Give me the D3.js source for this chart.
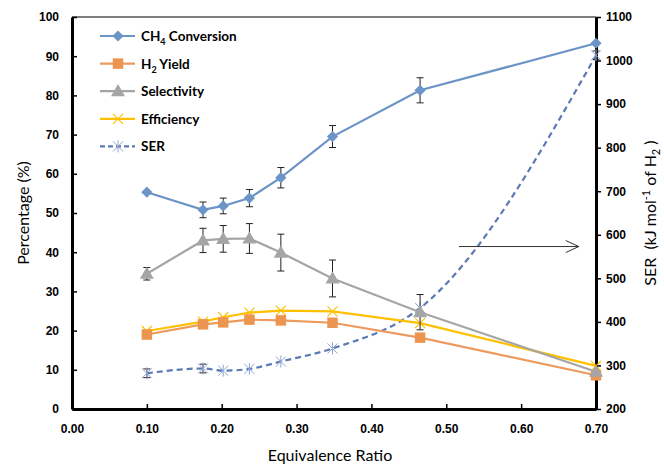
<!DOCTYPE html>
<html>
<head>
<meta charset="utf-8">
<script src="https://cdn.jsdelivr.net/npm/d3@7"></script>
<style>
    body { margin: 0; background: #fff; }
    svg { display: block; font-family: Lato, "Open Sans", sans-serif; }
</style>
</head>
<body>
<svg id="chart" width="664" height="465"></svg>
<script>
// equivalence ratio for every measurement
const ratios = [0.10, 0.175, 0.202, 0.237, 0.279, 0.348, 0.465, 0.70];

// left axis series (%)
const ch4Conversion = [55.3, 50.8, 51.8, 53.8, 59.0, 69.5, 81.3, 93.3];
const ch4Error = [0, 2.0, 2.0, 2.2, 2.6, 2.8, 3.2, 0];
const h2Yield = [19.0, 21.6, 22.1, 22.8, 22.6, 22.0, 18.2, 8.6];
const selectivity = [34.5, 43.0, 43.4, 43.5, 39.9, 33.3, 24.7, 9.5];
const selectivityError = [1.6, 3.1, 3.4, 3.8, 4.7, 4.7, 4.5, 0];
const efficiency = [19.9, 22.3, 23.4, 24.6, 25.1, 24.9, 21.9, 11.0];

// right axis series (kJ/mol H2)
const ser = [282, 293, 288, 292, 309, 339, 432, 1012];
const serError = [10, 10, 0, 0, 0, 0, 0, 10];

const xTicks = [0, 0.1, 0.2, 0.3, 0.4, 0.5, 0.6, 0.7];
const leftTicks = d3.range(0, 101, 10);
const rightTicks = d3.range(200, 1101, 100);

const margin = { left: 72, right: 596, top: 17, bottom: 409 };

const svg = d3.select('#chart');

const x = d3.scaleLinear().domain([0, 0.7]).range([margin.left, margin.right]);
const yLeft = d3.scaleLinear().domain([0, 100]).range([margin.bottom, margin.top]);
const yRight = d3.scaleLinear().domain([200, 1100]).range([margin.bottom, margin.top]);

// top border (thin)
svg.append('line')
    .attr('x1', margin.left).attr('x2', margin.right)
    .attr('y1', margin.top).attr('y2', margin.top)
    .attr('stroke', '#000').attr('stroke-width', 1.2);

// axes
const xAxis = svg.append('g')
    .attr('transform', `translate(0,${ margin.bottom })`)
    .call(d3.axisBottom(x).tickValues(xTicks).tickFormat(d3.format('.2f')).tickSizeInner(-5).tickSizeOuter(0).tickPadding(15));
const leftAxis = svg.append('g')
    .attr('transform', `translate(${ margin.left },0)`)
    .call(d3.axisLeft(yLeft).tickValues(leftTicks).tickSizeInner(-5).tickSizeOuter(0).tickPadding(13));
const rightAxis = svg.append('g')
    .attr('transform', `translate(${ margin.right },0)`)
    .call(d3.axisRight(yRight).tickValues(rightTicks).tickFormat(d3.format('d')).tickSizeInner(5).tickSizeOuter(0).tickPadding(5));

for (const ax of [xAxis, leftAxis, rightAxis]) {
    ax.select('.domain').attr('stroke', '#000').attr('stroke-width', 3);
    ax.selectAll('.tick line').attr('stroke', '#000').attr('stroke-width', 1.5);
    ax.selectAll('.tick text')
        .attr('fill', '#000')
        .style('font-size', '12px')
        .style('font-weight', 'bold');
}
leftAxis.selectAll('.tick line').attr('x2', 5);

// axis titles
svg.append('text')
    .attr('x', (margin.left + margin.right) / 2 - 4)
    .attr('y', 461)
    .attr('text-anchor', 'middle')
    .style('font-size', '16px')
    .text('Equivalence Ratio');
svg.append('text')
    .attr('transform', `translate(29,${ (margin.top + margin.bottom) / 2 }) rotate(-90)`)
    .attr('text-anchor', 'middle')
    .style('font-size', '16px')
    .text('Percentage (%)');
const serTitle = svg.append('text')
    .attr('transform', `translate(656,${ (margin.top + margin.bottom) / 2 }) rotate(-90)`)
    .attr('text-anchor', 'middle')
    .style('font-size', '16px');
serTitle.append('tspan').text('SER\u00a0\u00a0(kJ mol');
serTitle.append('tspan').attr('dy', -6).style('font-size', '11px').text('-1');
serTitle.append('tspan').attr('dy', 6).text('\u00a0of H');
serTitle.append('tspan').attr('dy', 4).style('font-size', '11px').text('2');
serTitle.append('tspan').attr('dy', -4).text('\u00a0)');

// marker shapes
const diamond = d3.symbol().type(d3.symbolDiamond2).size(80);
const square = d3.symbol().type(d3.symbolSquare).size(110);
const triangle = d3.symbol().type(d3.symbolTriangle).size(85);

function drawMarker(g, kind, color) {
    if (kind === 'diamond') {
        g.append('path').attr('d', diamond()).attr('fill', color);
    } else if (kind === 'square') {
        g.append('path').attr('d', square()).attr('fill', color);
    } else if (kind === 'triangle') {
        g.append('path').attr('d', triangle()).attr('transform', 'translate(0,1)').attr('fill', color);
    } else if (kind === 'x') {
        g.append('path').attr('d', 'M-5,-5L5,5M-5,5L5,-5').attr('stroke', color).attr('stroke-width', 1.2).attr('fill', 'none');
    } else if (kind === 'star') {
        g.append('path').attr('d', 'M-5,-5L5,5M-5,5L5,-5M0,-6L0,6').attr('stroke', color).attr('stroke-width', 1).attr('fill', 'none');
    }
}

const series = [
    { name: 'SER', values: ser, errors: serError, y: yRight, color: '#5B79B3', marker: 'star', markerColor: '#8FA6D4', dash: '6,4', curve: d3.curveMonotoneX, width: 2.2 },
    { name: 'Efficiency', values: efficiency, errors: null, y: yLeft, color: '#FFC000', marker: 'x', markerColor: '#FFC000', dash: null, curve: d3.curveLinear, width: 2.2 },
    { name: 'H2 Yield', values: h2Yield, errors: null, y: yLeft, color: '#ED9A5C', marker: 'square', markerColor: '#EC9550', dash: null, curve: d3.curveLinear, width: 2.2 },
    { name: 'Selectivity', values: selectivity, errors: selectivityError, y: yLeft, color: '#A5A5A5', marker: 'triangle', markerColor: '#A5A5A5', dash: null, curve: d3.curveLinear, width: 2.2 },
    { name: 'CH4 Conversion', values: ch4Conversion, errors: ch4Error, y: yLeft, color: '#6C94C6', marker: 'diamond', markerColor: '#6C94C6', dash: null, curve: d3.curveLinear, width: 2.2 },
];

for (const s of series) {
    const g = svg.append('g').classed('series', true);
    const pts = ratios.map((r, i) => ({ r, v: s.values[i], e: s.errors ? s.errors[i] : 0 }));
    const line = d3.line().x(d => x(d.r)).y(d => s.y(d.v)).curve(s.curve);
    g.append('path')
        .attr('d', line(pts))
        .attr('fill', 'none')
        .attr('stroke', s.color)
        .attr('stroke-width', s.width)
        .attr('stroke-dasharray', s.dash);
    // error bars
    const eb = g.selectAll('g.err').data(pts.filter(d => d.e > 0)).join('g').classed('err', true);
    eb.append('path')
        .attr('d', d => {
            const cx = x(d.r), y0 = s.y(d.v - d.e), y1 = s.y(d.v + d.e);
            return `M${ cx },${ y0 }L${ cx },${ y1 }M${ cx - 3.5 },${ y0 }L${ cx + 3.5 },${ y0 }M${ cx - 3.5 },${ y1 }L${ cx + 3.5 },${ y1 }`;
        })
        .attr('stroke', '#222').attr('stroke-width', 1).attr('fill', 'none');
    g.selectAll('g.mk').data(pts).join('g').classed('mk', true)
        .attr('transform', d => `translate(${ x(d.r) },${ s.y(d.v) })`)
        .each(function () { drawMarker(d3.select(this), s.marker, s.markerColor); });
}

// arrow pointing to the SER axis
const arrowY = yRight(573);
svg.append('path')
    .attr('d', `M${ x(0.517) },${ arrowY }L${ x(0.677) },${ arrowY }M${ x(0.677) - 13 },${ arrowY - 6 }L${ x(0.677) },${ arrowY }L${ x(0.677) - 13 },${ arrowY + 6 }`)
    .attr('stroke', '#333').attr('stroke-width', 1).attr('fill', 'none');

// legend
const legendItems = [
    { label: 'CH', sub: '4', rest: ' Conversion', color: '#6C94C6', marker: 'diamond', markerColor: '#6C94C6', dash: null },
    { label: 'H', sub: '2', rest: ' Yield', color: '#ED9A5C', marker: 'square', markerColor: '#EC9550', dash: null },
    { label: 'Selectivity', sub: null, rest: '', color: '#A5A5A5', marker: 'triangle', markerColor: '#A5A5A5', dash: null },
    { label: 'Efficiency', sub: null, rest: '', color: '#FFC000', marker: 'x', markerColor: '#FFC000', dash: null },
    { label: 'SER', sub: null, rest: '', color: '#5B79B3', marker: 'star', markerColor: '#8FA6D4', dash: '5,3' },
];
const legend = svg.append('g').classed('legend', true);
legendItems.forEach((item, i) => {
    const row = legend.append('g').attr('transform', `translate(0,${ 36 + i * 27.6 })`);
    row.append('line').attr('x1', 100).attr('x2', 135)
        .attr('stroke', item.color).attr('stroke-width', 2.2).attr('stroke-dasharray', item.dash);
    drawMarker(row.append('g').attr('transform', 'translate(118,0)'), item.marker, item.markerColor);
    const t = row.append('text').attr('x', 141).attr('y', 5)
        .style('font-size', '13.5px').style('font-weight', 'bold');
    t.append('tspan').text(item.label);
    if (item.sub) {
        t.append('tspan').attr('dy', 4).style('font-size', '9px').text(item.sub);
        t.append('tspan').attr('dy', -4).text(item.rest);
    }
});
</script>
</body>
</html>
